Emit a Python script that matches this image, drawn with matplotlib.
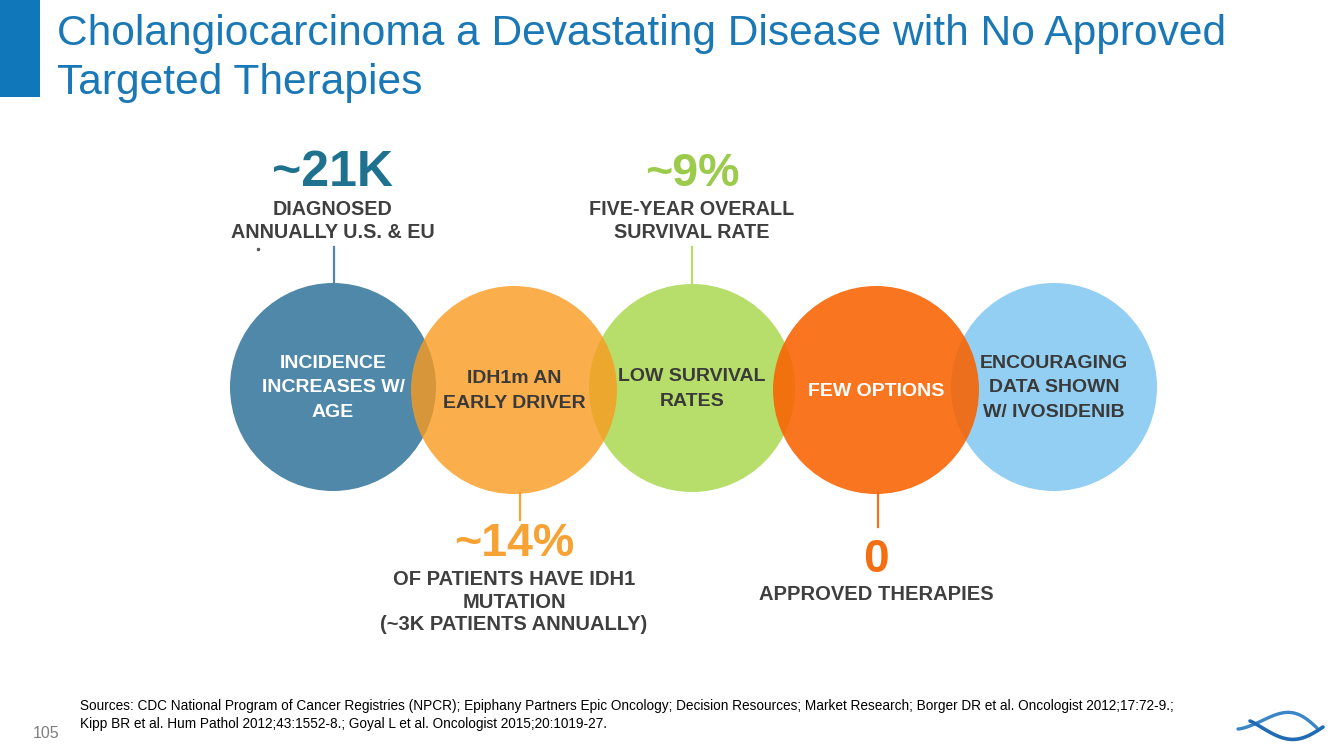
import numpy as np
import matplotlib
matplotlib.use("Agg")
import matplotlib.pyplot as plt
from matplotlib.patches import Ellipse, Rectangle

plt.rcParams['font.family'] = ['Liberation Sans', 'DejaVu Sans']

# ---- data ----
title_lines = ["Cholangiocarcinoma a Devastating Disease with No Approved", "Targeted Therapies"]
circle_labels = ["INCIDENCE\nINCREASES W/\nAGE", "IDH1m AN\nEARLY DRIVER", "LOW SURVIVAL\nRATES",
                 "FEW OPTIONS", "ENCOURAGING\nDATA SHOWN\nW/ IVOSIDENIB"]
circle_colors = ["#4f88a8", "#fa9a1f", "#b7de6a", "#f96200", "#93cff2"]
circle_alpha = [1.0, 0.8, 1.0, 0.88, 1.0]
circle_text_colors = ["white", "#3a3a3a", "#3a3a3a", "white", "#3a3a3a"]
circle_cx = [333, 514, 692, 876, 1054]
circle_cy = [387, 390, 388, 390, 387]
circle_z = [1, 3, 1, 3, 1]
stat_values = ["~21K", "~14%", "~9%", "0", None]
stat_desc = ["DIAGNOSED\nANNUALLY U.S. & EU", "OF PATIENTS HAVE IDH1\nMUTATION\n(~3K PATIENTS ANNUALLY)",
             "FIVE-YEAR OVERALL\nSURVIVAL RATE", "APPROVED THERAPIES", None]
stat_colors = ["#1f7190", "#f7a235", "#9ccb4c", "#f36f12", None]
stat_sizes = [36, 33.5, 33.5, 33]
stat_above = [True, False, True, False, None]
sources = ("Sources: CDC National Program of Cancer Registries (NPCR); Epiphany Partners Epic Oncology; Decision Resources; Market Research; Borger DR et al. Oncologist 2012;17:72-9.;\n"
           "Kipp BR et al. Hum Pathol 2012;43:1552-8.; Goyal L et al. Oncologist 2015;20:1019-27.")
page_number = "105"

fig = plt.figure(figsize=(13.44, 7.56), dpi=100)
ax = fig.add_axes([0, 0, 1, 1])
ax.set_xlim(0, 1344)
ax.set_ylim(756, 0)
ax.axis('off')

# title bar & title
ax.add_patch(Rectangle((0, 0), 40, 97, color="#1077bb", lw=0))
title_col = "#1a78b6"
ax.text(57, 45, title_lines[0], fontsize=30.6, color=title_col, va='baseline', ha='left')
ax.text(57, 94, title_lines[1], fontsize=30.6, color=title_col, va='baseline', ha='left')

R = 103
for i in range(len(circle_cx)):
    ax.add_patch(Ellipse((circle_cx[i], circle_cy[i]), 2 * R, 2 * R + 2, facecolor=circle_colors[i],
                         alpha=circle_alpha[i], lw=0, zorder=circle_z[i]))
    ax.text(circle_cx[i], circle_cy[i] + 1, circle_labels[i], fontsize=14, fontweight='bold',
            color=circle_text_colors[i], ha='center', va='center', linespacing=1.55, zorder=5)

# stems and stats
stem_dx = [1, 6, 0, 2]
line_gap = 23
for i in range(4):
    cx = circle_cx[i] + stem_dx[i]
    col = circle_colors[i]
    lines = stat_desc[i].split("\n")
    if stat_above[i]:
        ax.plot([cx, cx], [247, circle_cy[i] - R], color=col, lw=1.6, zorder=0)
        ax.text(circle_cx[i], 186, stat_values[i], fontsize=stat_sizes[i], fontweight='bold',
                color=stat_colors[i], ha='center', va='baseline')
        for k, ln in enumerate(lines):
            ax.text(circle_cx[i], 215 + k * line_gap, ln, fontsize=14.2, fontweight='bold',
                    color="#3f3f3f", ha='center', va='baseline')
    else:
        bottom = circle_cy[i] + R
        end = 520 if i == 1 else 527
        ax.plot([cx, cx], [bottom, end], color=col, lw=1.6, zorder=0, alpha=0.9)
        base = 556 if i == 1 else 572
        first = 585 if i == 1 else 600
        ax.text(circle_cx[i], base, stat_values[i], fontsize=stat_sizes[i], fontweight='bold',
                color=stat_colors[i], ha='center', va='baseline')
        for k, ln in enumerate(lines):
            ax.text(circle_cx[i], first + k * 22.5, ln, fontsize=14.5, fontweight='bold',
                    color="#3f3f3f", ha='center', va='baseline')

# tiny dot under first stat
ax.plot([258], [249], marker='o', ms=1.5, color="#555555")

# sources & page number
ax.text(80, 731, sources, fontsize=9.85, color="black", ha='left', va='bottom', linespacing=1.35)
ax.text(33, 733, page_number, fontsize=11.5, color="#7f7f7f", ha='left', va='center')

# logo (two crossing arcs)
t = np.linspace(0, 1, 120)
xa = 1238 + 79 * t
ya = 729 - 1 * t - 16 * np.sin(np.pi * t ** 1.5)
ax.plot(xa, ya, color="#3a86c8", lw=2.4, solid_capstyle='round')
xb = 1250 + 73 * t
yb = 721 + 6 * t + 15 * np.sin(np.pi * t ** 1.16)
ax.plot(xb, yb, color="#1f6bb5", lw=2.6, solid_capstyle='round')

fig.savefig("out.png", dpi=100)
